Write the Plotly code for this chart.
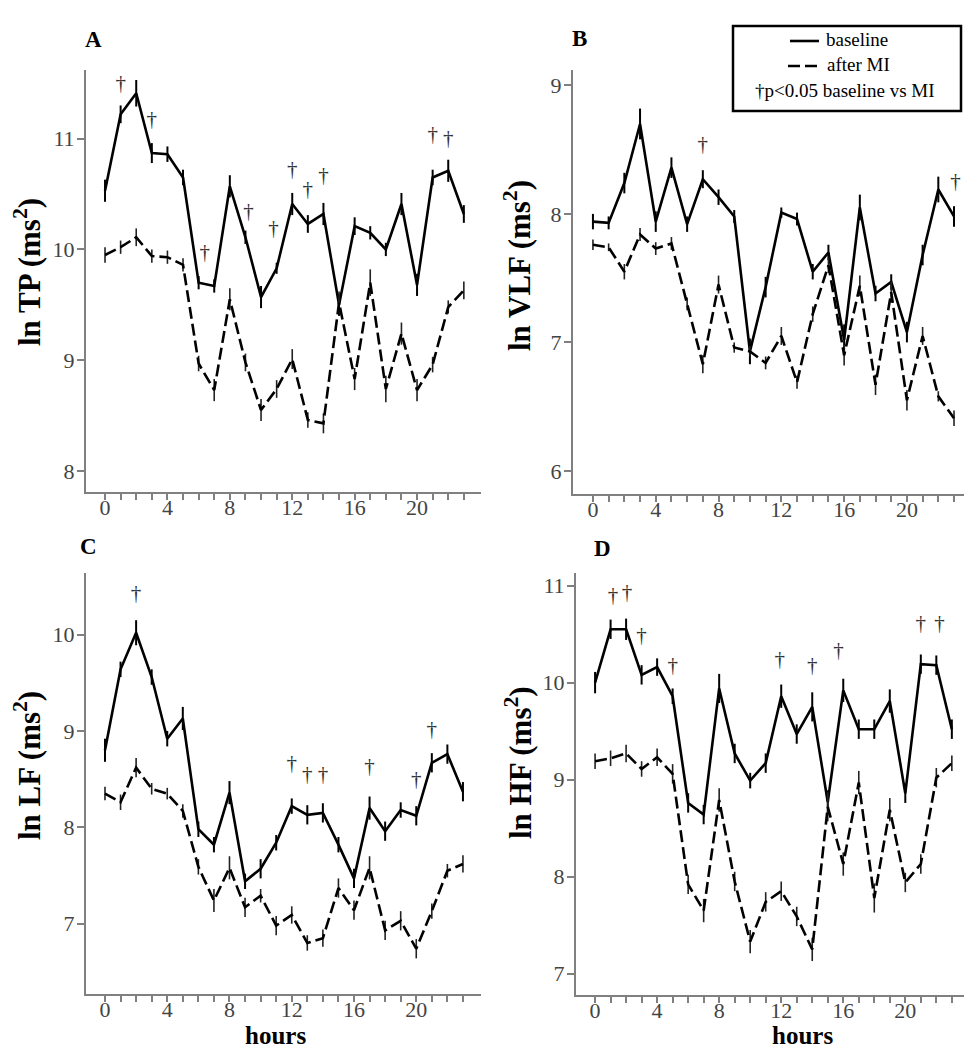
import plotly.graph_objects as go
from plotly.subplots import make_subplots

hours = list(range(24))
x_ticktext = [str(h) if h % 4 == 0 else "" for h in hours]

# panel A: ln TP
tp_base = [10.53, 11.22, 11.41, 10.87, 10.86, 10.65, 9.70, 9.67, 10.57, 10.11, 9.57, 9.83,
           10.41, 10.23, 10.32, 9.50, 10.21, 10.15, 10.00, 10.41, 9.68, 10.65, 10.71, 10.32]
tp_base_err = [0.10, 0.08, 0.12, 0.09, 0.07, 0.07, 0.06, 0.06, 0.10, 0.06, 0.10, 0.05,
               0.10, 0.08, 0.10, 0.10, 0.08, 0.06, 0.06, 0.10, 0.10, 0.07, 0.10, 0.08]
tp_mi = [9.95, 10.02, 10.11, 9.94, 9.93, 9.86, 8.97, 8.73, 9.55, 8.98, 8.55, 8.74,
         9.01, 8.46, 8.43, 9.52, 8.83, 9.70, 8.74, 9.24, 8.73, 8.96, 9.48, 9.63]
tp_mi_err = [0.07, 0.06, 0.08, 0.06, 0.06, 0.06, 0.07, 0.10, 0.10, 0.08, 0.10, 0.08,
             0.09, 0.07, 0.09, 0.10, 0.10, 0.12, 0.12, 0.10, 0.10, 0.07, 0.06, 0.08]
tp_dag_x = [1, 2, 3, 6.4, 9.2, 10.8, 12, 13, 14, 21, 22]
tp_dag_y = [11.49, 11.68, 11.16, 9.96, 10.33, 10.18, 10.71, 10.53, 10.66, 11.03, 10.99]

# panel B: ln VLF
vlf_base = [7.94, 7.93, 8.24, 8.70, 7.94, 8.36, 7.92, 8.27, 8.13, 7.98, 6.93, 7.43,
            8.01, 7.96, 7.55, 7.70, 7.02, 8.05, 7.38, 7.47, 7.08, 7.68, 8.19, 7.98]
vlf_base_err = [0.06, 0.05, 0.08, 0.12, 0.08, 0.08, 0.06, 0.07, 0.06, 0.05, 0.10, 0.08,
                0.04, 0.05, 0.06, 0.06, 0.12, 0.10, 0.06, 0.06, 0.08, 0.08, 0.10, 0.08]
vlf_mi = [7.76, 7.74, 7.55, 7.84, 7.73, 7.77, 7.30, 6.83, 7.45, 6.96, 6.93, 6.84,
          7.05, 6.69, 7.22, 7.60, 6.90, 7.44, 6.67, 7.39, 6.55, 7.05, 6.58, 6.41]
vlf_mi_err = [0.04, 0.03, 0.06, 0.05, 0.05, 0.05, 0.05, 0.07, 0.07, 0.04, 0.04, 0.05,
              0.07, 0.05, 0.06, 0.06, 0.08, 0.08, 0.08, 0.08, 0.08, 0.07, 0.04, 0.06]
vlf_dag_x = [7, 23.1]
vlf_dag_y = [8.53, 8.24]

# panel C: ln LF
lf_base = [8.80, 9.64, 10.02, 9.56, 8.92, 9.13, 7.98, 7.82, 8.36, 7.44, 7.57, 7.84,
           8.22, 8.13, 8.15, 7.82, 7.47, 8.20, 7.96, 8.18, 8.12, 8.67, 8.76, 8.37]
lf_base_err = [0.12, 0.08, 0.13, 0.08, 0.08, 0.12, 0.08, 0.08, 0.12, 0.08, 0.10, 0.08,
               0.08, 0.10, 0.10, 0.08, 0.10, 0.12, 0.10, 0.08, 0.10, 0.10, 0.10, 0.10]
lf_mi = [8.35, 8.26, 8.62, 8.40, 8.35, 8.17, 7.59, 7.24, 7.58, 7.17, 7.29, 6.98,
         7.09, 6.80, 6.85, 7.37, 7.14, 7.58, 6.93, 7.03, 6.74, 7.13, 7.55, 7.62]
lf_mi_err = [0.07, 0.08, 0.10, 0.06, 0.06, 0.07, 0.08, 0.12, 0.12, 0.10, 0.07, 0.10,
             0.09, 0.08, 0.09, 0.10, 0.10, 0.12, 0.10, 0.10, 0.10, 0.08, 0.07, 0.09]
lf_dag_x = [2, 12, 13, 14, 17, 20, 21]
lf_dag_y = [10.41, 8.65, 8.54, 8.54, 8.62, 8.48, 9.00]

# panel D: ln HF
hf_base = [10.00, 10.55, 10.55, 10.08, 10.16, 9.86, 8.76, 8.64, 9.94, 9.27, 8.99, 9.17,
           9.86, 9.47, 9.75, 8.77, 9.92, 9.52, 9.52, 9.81, 8.86, 10.19, 10.18, 9.52]
hf_base_err = [0.11, 0.10, 0.11, 0.10, 0.09, 0.08, 0.10, 0.10, 0.15, 0.10, 0.08, 0.10,
               0.12, 0.10, 0.15, 0.12, 0.12, 0.10, 0.10, 0.12, 0.10, 0.10, 0.10, 0.10]
hf_mi = [9.19, 9.22, 9.27, 9.11, 9.23, 9.06, 7.92, 7.65, 8.79, 7.95, 7.33, 7.74,
         7.85, 7.59, 7.25, 8.72, 8.13, 8.97, 7.78, 8.69, 7.94, 8.13, 9.02, 9.17]
hf_mi_err = [0.08, 0.08, 0.09, 0.08, 0.09, 0.10, 0.10, 0.12, 0.12, 0.10, 0.12, 0.10,
             0.10, 0.10, 0.12, 0.15, 0.12, 0.12, 0.15, 0.12, 0.10, 0.10, 0.10, 0.08]
hf_dag_x = [1.15, 2.05, 3, 5, 11.9, 14, 15.7, 21, 22.2]
hf_dag_y = [10.89, 10.92, 10.47, 10.16, 10.23, 10.16, 10.32, 10.60, 10.60]

W, H = 972, 1050
SERIF = "Liberation Serif"
AXIS_GREY = "#808080"


def px_x(v):
    return v / W


def px_y(v):
    return 1 - v / H


panels = [
    dict(base=tp_base, base_err=tp_base_err, mi=tp_mi, mi_err=tp_mi_err,
         dag_x=tp_dag_x, dag_y=tp_dag_y, xr=[-1.22, 24.1], yr=[7.81, 11.62],
         yticks=[8, 9, 10, 11], xdom=[78, 473], ydom=[62, 484]),
    dict(base=vlf_base, base_err=vlf_base_err, mi=vlf_mi, mi_err=vlf_mi_err,
         dag_x=vlf_dag_x, dag_y=vlf_dag_y, xr=[-1.27, 24.4], yr=[5.82, 9.12],
         yticks=[6, 7, 8, 9], xdom=[565, 968], ydom=[62, 486]),
    dict(base=lf_base, base_err=lf_base_err, mi=lf_mi, mi_err=lf_mi_err,
         dag_x=lf_dag_x, dag_y=lf_dag_y, xr=[-1.22, 24.16], yr=[6.27, 10.64],
         yticks=[7, 8, 9, 10], xdom=[78, 473], ydom=[565, 986]),
    dict(base=hf_base, base_err=hf_base_err, mi=hf_mi, mi_err=hf_mi_err,
         dag_x=hf_dag_x, dag_y=hf_dag_y, xr=[-1.23, 24.3], yr=[6.78, 11.13],
         yticks=[7, 8, 9, 10, 11], xdom=[568, 964], ydom=[565, 987]),
]

fig = make_subplots(rows=2, cols=2)

for i, p in enumerate(panels):
    row, col = i // 2 + 1, i % 2 + 1
    # baseline - solid
    fig.add_trace(go.Scatter(
        x=hours, y=p["base"], mode="lines",
        line=dict(color="black", width=2.6),
        error_y=dict(type="data", array=p["base_err"], color="black", thickness=2, width=0),
        showlegend=False,
    ), row=row, col=col)
    # after MI - dashed
    fig.add_trace(go.Scatter(
        x=hours, y=p["mi"], mode="lines",
        line=dict(color="black", width=2.6, dash="12px,5px"),
        error_y=dict(type="data", array=p["mi_err"], color="#222", thickness=1.6, width=0),
        showlegend=False,
    ), row=row, col=col)
    # significance daggers
    fig.add_trace(go.Scatter(
        x=p["dag_x"], y=p["dag_y"], mode="text", text=["†"] * len(p["dag_x"]),
        textfont=dict(family=SERIF, size=21, color="#333"),
        cliponaxis=False, showlegend=False,
    ), row=row, col=col)

    fig.update_xaxes(
        domain=[px_x(p["xdom"][0]), px_x(p["xdom"][1])],
        range=p["xr"], tickvals=hours, ticktext=x_ticktext,
        ticks="outside", ticklen=6, tickwidth=2, tickcolor=AXIS_GREY,
        showline=True, linecolor=AXIS_GREY, linewidth=2,
        showgrid=False, zeroline=False, ticklabelstandoff=-11,
        tickfont=dict(family=SERIF, size=22, color="#444"),
        row=row, col=col)
    fig.update_yaxes(
        domain=[px_y(p["ydom"][1]), px_y(p["ydom"][0])],
        range=p["yr"], tickvals=p["yticks"],
        ticks="outside", ticklen=7, tickwidth=2, tickcolor=AXIS_GREY,
        showline=True, linecolor=AXIS_GREY, linewidth=2,
        showgrid=False, zeroline=False, ticklabelstandoff=-2,
        tickfont=dict(family=SERIF, size=22, color="#444"),
        row=row, col=col)

annotations = []
# panel letters
for letter, x, y in [("A", 85, 32), ("B", 571, 30), ("C", 80, 538), ("D", 594, 540)]:
    annotations.append(dict(text=f"<b>{letter}</b>", x=px_x(x), y=px_y(y),
                            xref="paper", yref="paper", showarrow=False,
                            xanchor="center", yanchor="middle",
                            font=dict(family=SERIF, size=23, color="black")))
# y-axis titles
for label, x, y in [("ln TP (ms<sup>2</sup>)", 19, 264), ("ln VLF (ms<sup>2</sup>)", 509, 258),
                    ("ln LF (ms<sup>2</sup>)", 19, 758), ("ln HF (ms<sup>2</sup>)", 510, 755)]:
    annotations.append(dict(text=f"<b>{label}</b>", x=px_x(x), y=px_y(y),
                            xref="paper", yref="paper", showarrow=False, textangle=-90,
                            xanchor="center", yanchor="middle",
                            font=dict(family=SERIF, size=31, color="black")))
# x-axis titles
for x in [267, 794]:
    annotations.append(dict(text="<b>hours</b>", x=px_x(x), y=px_y(1027),
                            xref="paper", yref="paper", showarrow=False,
                            xanchor="center", yanchor="middle",
                            font=dict(family=SERIF, size=25, color="black")))
# legend texts
annotations.append(dict(text="baseline", x=px_x(816), y=px_y(32), xref="paper", yref="paper",
                        showarrow=False, xanchor="left", yanchor="middle",
                        font=dict(family=SERIF, size=19, color="black")))
annotations.append(dict(text="after MI", x=px_x(817), y=px_y(57), xref="paper", yref="paper",
                        showarrow=False, xanchor="left", yanchor="middle",
                        font=dict(family=SERIF, size=19, color="black")))
annotations.append(dict(text="†p<0.05 baseline vs MI", x=px_x(837), y=px_y(82),
                        xref="paper", yref="paper", showarrow=False,
                        xanchor="center", yanchor="middle",
                        font=dict(family=SERIF, size=19, color="black")))

shapes = [
    dict(type="rect", xref="paper", yref="paper",
         x0=px_x(725), x1=px_x(953), y0=px_y(103), y1=px_y(18),
         line=dict(color="black", width=2.5), fillcolor="white", layer="below"),
    dict(type="line", xref="paper", yref="paper",
         x0=px_x(782), x1=px_x(811), y0=px_y(33), y1=px_y(33),
         line=dict(color="black", width=2.6)),
    dict(type="line", xref="paper", yref="paper",
         x0=px_x(780), x1=px_x(811), y0=px_y(58), y1=px_y(58),
         line=dict(color="black", width=2.6, dash="12px,5px")),
]

fig.update_layout(
    width=W, height=H,
    margin=dict(l=0, r=0, t=0, b=0),
    plot_bgcolor="white", paper_bgcolor="white",
    annotations=annotations, shapes=shapes,
    showlegend=False,
)

fig.write_html("out.html")
